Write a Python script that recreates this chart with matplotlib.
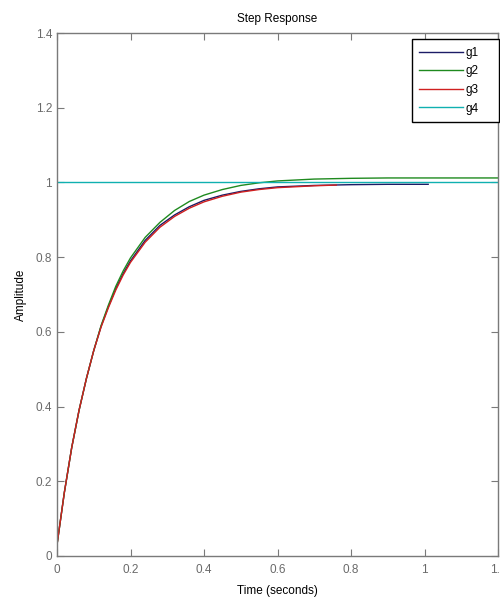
import matplotlib.pyplot as plt
from matplotlib.ticker import FormatStrFormatter

plt.rcParams['font.family'] = ['Liberation Sans', 'DejaVu Sans']

# step response samples
t1 = [0, 0.01, 0.02, 0.04, 0.06, 0.08, 0.10, 0.12, 0.14, 0.16, 0.18, 0.20,
      0.24, 0.28, 0.32, 0.36, 0.40, 0.45, 0.50, 0.55, 0.60, 0.70, 0.80, 0.90, 1.01]
g1 = [0.03, 0.10, 0.17, 0.29, 0.39, 0.475, 0.55, 0.615, 0.668, 0.716, 0.756, 0.79,
      0.845, 0.885, 0.913, 0.935, 0.952, 0.966, 0.976, 0.983, 0.988, 0.992, 0.994, 0.995, 0.995]

t2 = [0, 0.01, 0.02, 0.04, 0.06, 0.08, 0.10, 0.12, 0.14, 0.16, 0.18, 0.20,
      0.24, 0.28, 0.32, 0.36, 0.40, 0.45, 0.50, 0.55, 0.60, 0.70, 0.80, 0.90, 1.0, 1.1, 1.2]
g2 = [0.03, 0.10, 0.17, 0.29, 0.39, 0.475, 0.55, 0.617, 0.672, 0.722, 0.763, 0.798,
      0.853, 0.893, 0.925, 0.949, 0.966, 0.981, 0.992, 0.999, 1.004, 1.009, 1.011, 1.012, 1.012, 1.012, 1.012]

t3 = [0, 0.01, 0.02, 0.04, 0.06, 0.08, 0.10, 0.12, 0.14, 0.16, 0.18, 0.20,
      0.24, 0.28, 0.32, 0.36, 0.40, 0.45, 0.50, 0.55, 0.60, 0.70, 0.76]
g3 = [0.03, 0.10, 0.17, 0.29, 0.39, 0.475, 0.55, 0.613, 0.665, 0.712, 0.752, 0.786,
      0.84, 0.88, 0.909, 0.931, 0.948, 0.963, 0.974, 0.981, 0.986, 0.991, 0.993]

t4 = [0, 1.2]
g4 = [1, 1]

labels = ['g1', 'g2', 'g3', 'g4']

fig = plt.figure(figsize=(5.0, 5.97), dpi=100)
ax = fig.add_axes([0.114, 0.0687, 0.882, 0.876])

ax.plot(t1, g1, color='#1c1c66', lw=1.0, label=labels[0])
ax.plot(t2, g2, color='#1f8a1f', lw=1.0, label=labels[1])
ax.plot(t3, g3, color='#d02020', lw=1.0, label=labels[2])
ax.plot(t4, g4, color='#10b0b0', lw=1.0, label=labels[3])

ax.set_xlim(0, 1.2)
ax.set_ylim(0, 1.4)
ax.set_xticks([0, 0.2, 0.4, 0.6, 0.8, 1.0, 1.2])
ax.set_yticks([0, 0.2, 0.4, 0.6, 0.8, 1.0, 1.2, 1.4])
ax.xaxis.set_major_formatter(FormatStrFormatter('%g'))
ax.yaxis.set_major_formatter(FormatStrFormatter('%g'))

for s in ax.spines.values():
    s.set_color('#7a7a7a')
    s.set_linewidth(1.0)
ax.tick_params(direction='in', top=True, right=True, length=5,
               colors='#7a7a7a', labelcolor='#6a6a6a', labelsize=8.5)
ax.tick_params(axis='x', pad=6)

ax.set_title('Step Response', fontsize=8.5, pad=8)
ax.set_xlabel('Time (seconds)', fontsize=8.5, labelpad=6)
ax.set_ylabel('Amplitude', fontsize=8.5, labelpad=6)

leg = ax.legend(loc='upper left', bbox_to_anchor=(0.8045, 0.7575, 0.198, 0.231),
                mode='expand', borderaxespad=0, fancybox=False, framealpha=1,
                edgecolor='black', fontsize=8.5, handlelength=3.7,
                labelspacing=0.56, handletextpad=0.2, borderpad=0.65)
leg.get_frame().set_linewidth(1.0)

fig.savefig('out.png', dpi=100)
